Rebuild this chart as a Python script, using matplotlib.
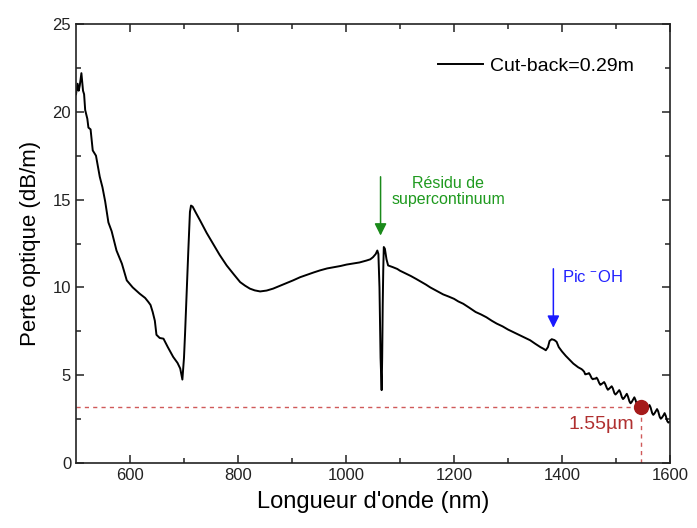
import matplotlib
matplotlib.use("Agg")
import matplotlib.pyplot as plt

plt.rcParams['font.family'] = ['Liberation Sans', 'DejaVu Sans']
plt.rcParams['mathtext.fontset'] = 'custom'
plt.rcParams['mathtext.rm'] = 'Liberation Sans'
plt.rcParams['mathtext.it'] = 'Liberation Sans'

# Wavelength (nm) and optical loss (dB/m)
wavelength = [500, 503, 505, 507, 510, 513, 515, 517, 521, 523, 527, 531, 537, 544, 549, 554, 560, 566,
              575, 585, 594, 605, 618, 628, 634, 638, 642, 646, 649, 655, 662, 670, 680, 688, 693, 697,
              700, 702, 705, 708, 711, 713, 716, 722, 730, 742, 754, 766, 779, 792, 804, 813, 822, 831,
              841, 853, 865, 880, 892, 902, 915, 928, 940, 952, 965, 978, 990, 1001, 1013, 1025, 1038,
              1045, 1050, 1055, 1058, 1060, 1062, 1064, 1066, 1067, 1068, 1069, 1070, 1072, 1075, 1078,
              1087, 1095, 1100, 1110, 1120, 1130, 1140, 1148, 1156, 1168, 1180, 1190, 1200, 1208, 1217,
              1228, 1240, 1250, 1260, 1270, 1279, 1290, 1300, 1310, 1320, 1330, 1341, 1350, 1360, 1366,
              1370, 1374, 1377, 1381, 1386, 1390, 1394, 1400, 1407, 1415, 1421, 1430, 1436,
              1438, 1441, 1443, 1445, 1448, 1450, 1452, 1455, 1457, 1459, 1462, 1464, 1466, 1469,
              1471, 1473, 1476, 1478, 1480, 1483, 1485, 1487, 1490, 1492, 1494, 1497, 1499, 1501,
              1504, 1506, 1508, 1511, 1513, 1515, 1518, 1520, 1522, 1525, 1527, 1529, 1532, 1534,
              1536, 1539, 1541, 1543, 1546, 1548, 1550, 1553, 1555, 1557, 1560, 1562, 1564, 1567,
              1569, 1571, 1574, 1576, 1578, 1581, 1583, 1585, 1588, 1590, 1592, 1595, 1597, 1600]
loss = [21.0, 21.6, 21.2, 21.5, 22.2, 21.2, 21.0, 20.1, 19.6, 19.1, 19.0, 17.8, 17.5, 16.3, 15.7, 14.9, 13.7, 13.2,
        12.1, 11.35, 10.4, 10.0, 9.64, 9.4, 9.17, 9.0, 8.6, 8.1, 7.3, 7.12, 7.08, 6.6, 6.04, 5.7, 5.38, 4.75,
        6.0, 7.4, 9.8, 12.1, 14.3, 14.66, 14.6, 14.25, 13.8, 13.1, 12.48, 11.85, 11.25, 10.75, 10.3, 10.1, 9.93, 9.83,
        9.77, 9.82, 9.93, 10.12, 10.27, 10.4, 10.58, 10.72, 10.85, 10.97, 11.08, 11.15, 11.22, 11.3, 11.36, 11.42, 11.53,
        11.6, 11.72, 11.9, 12.1, 11.9, 10.0, 6.0, 4.15, 6.0, 9.0, 11.0, 12.3, 12.2, 11.6, 11.25,
        11.15, 11.05, 10.95, 10.8, 10.65, 10.48, 10.3, 10.16, 10.0, 9.8, 9.6, 9.48, 9.35, 9.2, 9.07,
        8.85, 8.6, 8.46, 8.3, 8.1, 7.94, 7.78, 7.6, 7.45, 7.3, 7.15, 6.99, 6.8, 6.6, 6.5,
        6.42, 6.6, 6.95, 7.05, 7.0, 6.9, 6.6, 6.35, 6.1, 5.85, 5.66, 5.45, 5.35,
        5.3, 5.2, 5.05, 5.06, 5.09, 5.12, 5.02, 4.83, 4.77, 4.8, 4.8, 4.86, 4.77, 4.55,
        4.45, 4.49, 4.56, 4.61, 4.5, 4.27, 4.17, 4.22, 4.31, 4.37, 4.26, 3.98, 3.9, 3.96,
        4.07, 4.15, 4.03, 3.74, 3.64, 3.7, 3.84, 3.94, 3.8, 3.5, 3.4, 3.47, 3.63, 3.74,
        3.6, 3.3, 3.2, 3.27, 3.43, 3.54, 3.4, 3.08, 2.98, 3.05, 3.19, 3.3, 3.17, 2.84,
        2.74, 2.81, 2.96, 3.07, 2.95, 2.62, 2.52, 2.58, 2.72, 2.84, 2.7, 2.38, 2.3, 2.36]

legend_label = "Cut-back=0.29m"
marker_wl = 1547
marker_loss = 3.2
xticks = [600, 800, 1000, 1200, 1400, 1600]
yticks = [0, 5, 10, 15, 20, 25]

fig = plt.figure(figsize=(6.97, 5.28), dpi=100)
ax = fig.add_axes([76/697, 1-463/528, 594/697, 439/528])

ax.plot(wavelength, loss, color='black', lw=1.4, label=legend_label)

# dashed guide lines and marker at 1.55 µm
ax.plot([500, marker_wl], [marker_loss, marker_loss], color='#d05a5a', lw=1.0, ls=(0, (3, 3)))
ax.plot([marker_wl, marker_wl], [0, marker_loss], color='#d05a5a', lw=1.0, ls=(0, (3, 3)))
ax.plot([marker_wl], [marker_loss], 'o', color='#a51a1a', ms=10, zorder=5)
ax.text(1473, 2.2, "1.55µm", color='#b03030', fontsize=14, ha='center', va='center')

# annotations
ax.annotate("", xy=(1064, 12.95), xytext=(1064, 16.3),
            arrowprops=dict(arrowstyle='-|>', color='#1a8a1a', lw=1.1, mutation_scale=18,
                            shrinkA=0, shrinkB=0))
ax.text(1189, 15.45, "Résidu de\nsupercontinuum", color='#1f9a1f', fontsize=11.5,
        ha='center', va='center', linespacing=1.05)
ax.annotate("", xy=(1384, 7.7), xytext=(1384, 11.06),
            arrowprops=dict(arrowstyle='-|>', color='#1a1aff', lw=1.1, mutation_scale=18,
                            shrinkA=0, shrinkB=0))
ax.text(1400, 10.6, r"Pic $^{\mathregular{-}}$OH", color='#2020ff', fontsize=12, ha='left', va='center')

ax.set_xlim(500, 1600)
ax.set_ylim(0, 25)
ax.set_xticks(xticks)
ax.set_yticks(yticks)
ax.set_xticks([700, 900, 1100, 1300, 1500], minor=True)
ax.set_yticks([2.5, 7.5, 12.5, 17.5, 22.5], minor=True)
ax.tick_params(which='both', direction='in', top=True, right=True, labelsize=12, colors='#222222',
               width=1.1)
ax.tick_params(which='major', length=6)
ax.tick_params(which='minor', length=3.5)
for s in ax.spines.values():
    s.set_linewidth(1.2)
    s.set_color('#222222')

ax.set_xlabel("Longueur d'onde (nm)", fontsize=17, labelpad=6)
ax.set_ylabel("Perte optique (dB/m)", fontsize=16, labelpad=8)

ax.legend(loc='center right', bbox_to_anchor=(0.94, 0.904), frameon=False, fontsize=14,
          handlelength=2.3, borderpad=0, borderaxespad=0, handletextpad=0.4)

fig.savefig("out.png", dpi=100)
